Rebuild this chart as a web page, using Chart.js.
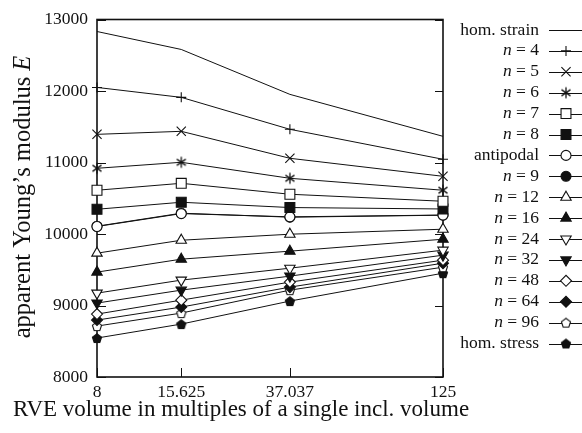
<!DOCTYPE html>
<html>
<head>
<meta charset="utf-8">
<script src="https://cdn.jsdelivr.net/npm/chart.js@4.4.1/dist/chart.umd.min.js"></script>
<style>
  html, body { margin: 0; padding: 0; background: #fff; }
  #wrap { width: 582px; height: 433px; position: relative; }
</style>
</head>
<body>
<div id="wrap"><canvas id="chart"></canvas></div>
<script>
// RVE volumes (multiples of one inclusion volume) and their tick labels
const volumes = [8, 15.625, 37.037, 125];
const volumeLabels = ['8', '15.625', '37.037', '125'];
const yTicks = [8000, 9000, 10000, 11000, 12000, 13000];

// apparent Young's modulus per boundary condition / number of directions
const homStrain = [12832, 12581, 11953, 11366];
const n4 = [12050, 11911, 11464, 11045];
const n5 = [11394, 11436, 11059, 10807];
const n6 = [10919, 11003, 10779, 10612];
const n7 = [10612, 10709, 10556, 10458];
const n8 = [10346, 10444, 10370, 10350];
const antipodal = [10105, 10285, 10240, 10265];
const n9 = [10109, 10291, 10235, 10263];
const n12 = [9732, 9913, 9997, 10067];
const n16 = [9467, 9648, 9760, 9927];
const n24 = [9173, 9355, 9522, 9774];
const n32 = [9034, 9215, 9411, 9704];
const n48 = [8880, 9075, 9327, 9634];
const n64 = [8796, 8978, 9257, 9592];
const n96 = [8712, 8894, 9215, 9536];
const homStress = [8545, 8740, 9062, 9452];

const INK = '#111';
const FONT = '"Liberation Serif", "DejaVu Serif", serif';
const FS = 17.5;      // ticks and legend
const TITLE_FS = 23;  // x-axis title
const YTITLE_FS = 24.5;

// small canvases for markers Chart.js has no built-in style for
function pentagon(filled) {
  const s = 12, r = 4.8;
  const c = document.createElement('canvas');
  c.width = c.height = s;
  const g = c.getContext('2d');
  g.beginPath();
  for (let k = 0; k < 5; k++) {
    const a = -Math.PI / 2 + k * 2 * Math.PI / 5;
    g.lineTo(s / 2 + r * Math.cos(a), s / 2 + 0.6 + r * Math.sin(a));
  }
  g.closePath();
  g.fillStyle = filled ? INK : '#fff';
  g.fill();
  g.lineWidth = 1.1;
  g.strokeStyle = INK;
  g.stroke();
  return c;
}

function asterisk() {
  const s = 14, r = 5.5;
  const c = document.createElement('canvas');
  c.width = c.height = s;
  const g = c.getContext('2d');
  g.strokeStyle = INK;
  g.lineWidth = 1.3;
  g.beginPath();
  for (const a of [90, 35, -35]) {
    const t = a * Math.PI / 180;
    g.moveTo(s / 2 - r * Math.cos(t), s / 2 - r * Math.sin(t));
    g.lineTo(s / 2 + r * Math.cos(t), s / 2 + r * Math.sin(t));
  }
  g.stroke();
  return c;
}

const series = [
  { label: 'hom. strain', data: homStrain, style: false, r: 0 },
  { label: 'n = 4', data: n4, style: 'cross', r: 5 },
  { label: 'n = 5', data: n5, style: 'crossRot', r: 6.5 },
  { label: 'n = 6', data: n6, style: asterisk(), r: 5 },
  { label: 'n = 7', data: n7, style: 'rect', open: true, r: 7 },
  { label: 'n = 8', data: n8, style: 'rect', r: 7 },
  { label: 'antipodal', data: antipodal, style: 'circle', open: true, r: 5 },
  { label: 'n = 9', data: n9, style: 'circle', r: 5 },
  { label: 'n = 12', data: n12, style: 'triangle', open: true, r: 6 },
  { label: 'n = 16', data: n16, style: 'triangle', r: 6 },
  { label: 'n = 24', data: n24, style: 'triangle', open: true, rot: 180, r: 6 },
  { label: 'n = 32', data: n32, style: 'triangle', rot: 180, r: 6 },
  { label: 'n = 48', data: n48, style: 'rectRot', open: true, r: 5.5 },
  { label: 'n = 64', data: n64, style: 'rectRot', r: 5.5 },
  { label: 'n = 96', data: n96, style: pentagon(false), r: 5 },
  { label: 'hom. stress', data: homStress, style: pentagon(true), r: 5 }
];

const datasets = series.map(s => ({
  label: s.label,
  data: volumes.map((v, i) => ({ x: v, y: s.data[i] })),
  borderColor: INK,
  borderWidth: 1,
  pointStyle: s.style,
  pointRadius: s.r,
  pointRotation: s.rot || 0,
  pointBorderWidth: 1.1,
  pointBorderColor: INK,
  pointBackgroundColor: s.open ? '#fff' : INK,
  tension: 0,
  clip: false
}));

// draws text made of plain and italic pieces
function drawMixed(ctx, parts, x, y, align, size) {
  let w = 0;
  for (const p of parts) {
    ctx.font = (p.it ? 'italic ' : '') + size + 'px ' + FONT;
    p.w = ctx.measureText(p.t).width;
    w += p.w;
  }
  let cx = align === 'right' ? x - w : (align === 'center' ? x - w / 2 : x);
  for (const p of parts) {
    ctx.font = (p.it ? 'italic ' : '') + size + 'px ' + FONT;
    ctx.fillText(p.t, cx, y);
    cx += p.w;
  }
}

function labelParts(text) {
  return text.startsWith('n = ')
    ? [{ t: 'n', it: true }, { t: ' = ' + text.slice(4) }]
    : [{ t: text }];
}

const decorations = {
  id: 'decorations',
  beforeDatasetsDraw(chart) {
    const { ctx, chartArea: a, scales } = chart;
    ctx.save();
    ctx.strokeStyle = INK;
    ctx.lineWidth = 1;
    ctx.beginPath();
    // inward ticks on left/right
    for (const v of yTicks) {
      const y = Math.round(scales.y.getPixelForValue(v)) + 0.5;
      ctx.moveTo(a.left, y); ctx.lineTo(a.left + 9, y);
      ctx.moveTo(a.right, y); ctx.lineTo(a.right - 8, y);
    }
    // inward ticks on bottom
    for (const v of volumes) {
      const x = Math.round(scales.x.getPixelForValue(v)) + 0.5;
      ctx.moveTo(x, a.bottom); ctx.lineTo(x, a.bottom - 9);
    }
    ctx.stroke();
    ctx.lineWidth = 1.6;
    ctx.strokeRect(a.left, a.top, a.right - a.left, a.bottom - a.top);
    ctx.restore();
  },
  afterDraw(chart) {
    const { ctx } = chart;
    ctx.save();
    ctx.fillStyle = INK;
    ctx.textBaseline = 'middle';

    // x-axis title
    drawMixed(ctx, [{ t: 'RVE volume in multiples of a single incl. volume' }],
      241, 410, 'center', TITLE_FS);

    // y-axis title
    ctx.translate(24, 197);
    ctx.rotate(-Math.PI / 2);
    drawMixed(ctx, [{ t: 'apparent Young\u2019s modulus ' }, { t: 'E', it: true }],
      0, 0, 'center', YTITLE_FS);
    ctx.setTransform(1, 0, 0, 1, 0, 0);

    // legend: right-aligned labels, line sample with marker
    chart.data.datasets.forEach((ds, i) => {
      const y = 30 + i * 20.9;
      ctx.fillStyle = INK;
      drawMixed(ctx, labelParts(ds.label), 539, y, 'right', FS);
      ctx.strokeStyle = INK;
      ctx.lineWidth = 1;
      ctx.beginPath();
      ctx.moveTo(549, Math.round(y) + 0.5);
      ctx.lineTo(582, Math.round(y) + 0.5);
      ctx.stroke();
      if (ds.pointStyle !== false) {
        ctx.fillStyle = ds.pointBackgroundColor;
        ctx.strokeStyle = INK;
        ctx.lineWidth = 1.1;
        Chart.helpers.drawPoint(ctx, {
          pointStyle: ds.pointStyle,
          radius: ds.pointRadius,
          rotation: ds.pointRotation,
          borderWidth: 1.1
        }, 566, y);
      }
    });
    ctx.restore();
  }
};

new Chart(document.getElementById('chart'), {
  type: 'line',
  data: { datasets },
  options: {
    responsive: true,
    maintainAspectRatio: false,
    devicePixelRatio: 1,
    animation: false,
    layout: { padding: { left: 0, top: 19, right: 139, bottom: 0 } },
    plugins: { legend: { display: false }, tooltip: { enabled: false } },
    scales: {
      x: {
        type: 'logarithmic',
        min: 8,
        max: 125,
        afterBuildTicks: s => { s.ticks = volumes.map(v => ({ value: v })); },
        afterFit: s => { s.height = 56; },
        grid: { display: false, drawTicks: false },
        border: { display: false },
        ticks: {
          autoSkip: false,
          maxRotation: 0,
          padding: 5,
          color: INK,
          font: { family: FONT, size: FS },
          callback: (v) => volumeLabels[volumes.indexOf(v)]
        }
      },
      y: {
        type: 'linear',
        min: 8000,
        max: 13000,
        afterBuildTicks: s => { s.ticks = yTicks.map(v => ({ value: v })); },
        afterFit: s => { s.width = 97; },
        grid: { display: false, drawTicks: false },
        border: { display: false },
        ticks: {
          padding: 9,
          color: INK,
          font: { family: FONT, size: FS },
          callback: v => String(v)
        }
      }
    }
  },
  plugins: [decorations]
});
</script>
</body>
</html>
